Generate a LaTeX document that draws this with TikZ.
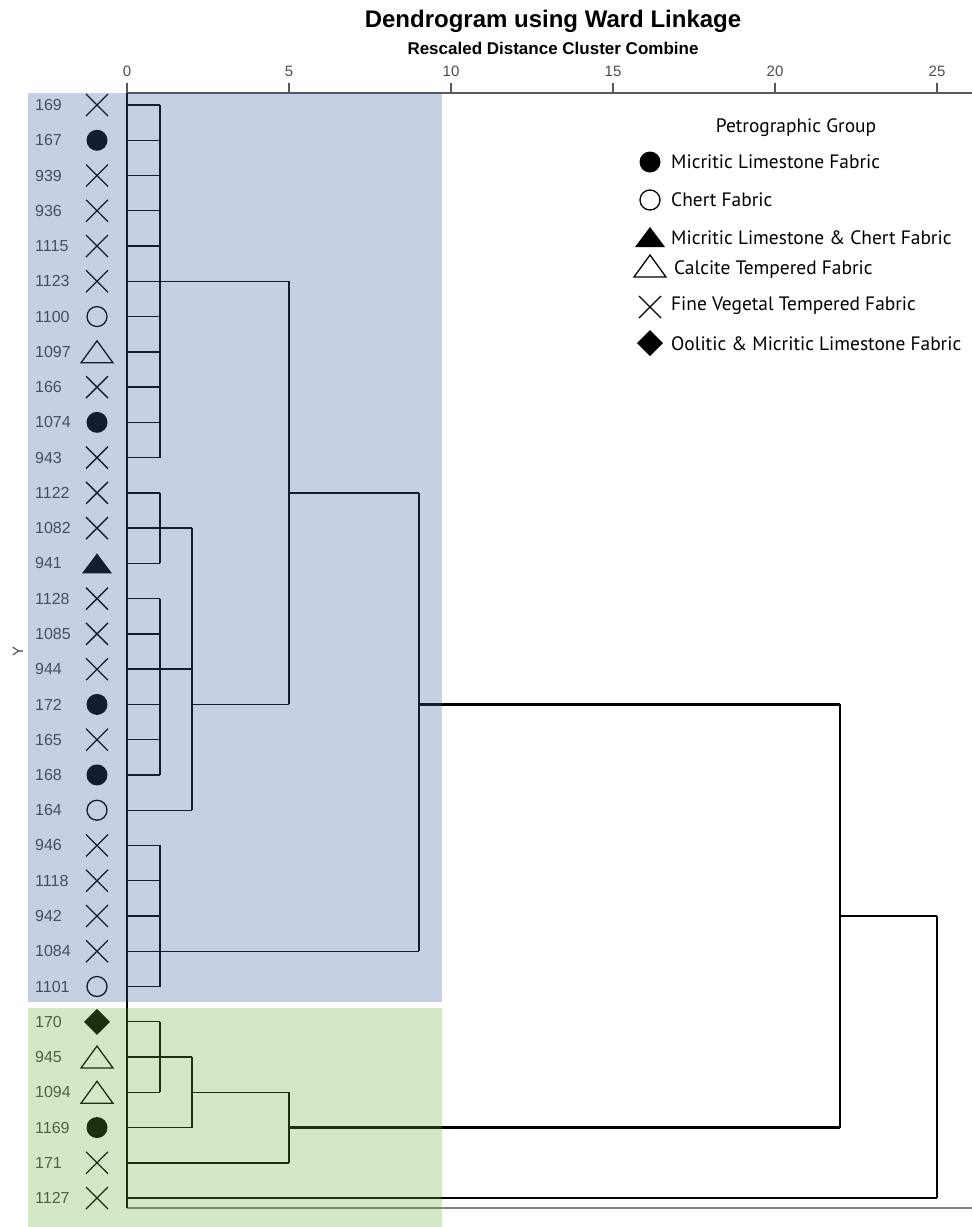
\documentclass[tikz,border=0pt]{standalone}
\usepackage{fontspec}
\setmainfont{Liberation Sans}
\newfontfamily\legendfont{PT Sans}
\usetikzlibrary{calc}

\definecolor{bandblue}{RGB}{62,98,165}
\definecolor{bandgreen}{RGB}{105,173,48}

\tikzset{
    link/.style={line width=1.4pt},
    trunk/.style={line width=2.8pt},
    axisline/.style={line width=1.6pt, black!65},
    leaflabel/.style={anchor=west, inner sep=0pt, text=black!72, font=\fontsize{16}{16}\selectfont},
    ticklabel/.style={inner sep=0pt, text=black!70, font=\fontsize{15}{15}\selectfont},
    legendtext/.style={anchor=west, inner sep=0pt, font=\legendfont\fontsize{19.4}{19.4}\selectfont},
    pics/dotmark/.style={code={\fill (0,0) circle (10.5);}},
    pics/ringmark/.style={code={\draw[line width=1.3pt] (0,0) circle (10);}},
    pics/trimark/.style={code={\fill (-15,10) -- (15,10) -- (0,-10) -- cycle;}},
    pics/otrimark/.style={code={\draw[line width=1.3pt] (-16,11) -- (16,11) -- (0,-11) -- cycle;}},
    pics/crossmark/.style={code={\draw[line width=1.3pt] (-11,-11) -- (11,11) (-11,11) -- (11,-11);}},
    pics/diamark/.style={code={\fill (0,-13) -- (13,0) -- (0,13) -- (-13,0) -- cycle;}}
}

\begin{document}
\begin{tikzpicture}[x=1pt,y=-1pt]
    \useasboundingbox (0,0) rectangle (972,1227);

    % titles
    \node[font=\bfseries\fontsize{24}{24}\selectfont] (title) at (553,21) {Dendrogram using Ward Linkage};
    \node[font=\bfseries\fontsize{17}{17}\selectfont] (subtitle) at (553,48) {Rescaled Distance Cluster Combine};

    % axis and frame
    \draw[axisline] (127,93) -- (972,93);
    \draw[axisline, black!50] (127,1208) -- (972,1208);
    \draw[link] (127,93) -- (127,1208);
    \foreach \d in {0,5,...,25}{
        \draw[axisline] ({127+32.4*\d},83) -- ({127+32.4*\d},93);
        \node[ticklabel] (k\d) at ({127+32.4*\d},71) {\d};
    }
    \node[ticklabel, rotate=90] (ylab) at (18,651) {Y};

    % columns of the joins
    \coordinate (c1) at (160,93);
    \coordinate (c2) at (192,93);
    \coordinate (c5) at (289,93);
    \coordinate (c9) at (419,93);
    \coordinate (c22) at (840,93);
    \coordinate (c25) at (937,93);

    % leaves
    \foreach \lab/\mk [count=\i from 0] in {169/crossmark,167/dotmark,939/crossmark,936/crossmark,
        1115/crossmark,1123/crossmark,1100/ringmark,1097/otrimark,166/crossmark,1074/dotmark,
        943/crossmark,1122/crossmark,1082/crossmark,941/trimark,1128/crossmark,1085/crossmark,
        944/crossmark,172/dotmark,165/crossmark,168/dotmark,164/ringmark,946/crossmark,
        1118/crossmark,942/crossmark,1084/crossmark,1101/ringmark,170/diamark,945/otrimark,
        1094/otrimark,1169/dotmark,171/crossmark,1127/crossmark}{
        \coordinate (l\i) at (127,{105+35.26*\i});
        \node[leaflabel] (t\i) at (35,{105+35.26*\i}) {\lab};
        \pic at (97,{105+35.26*\i}) {\mk};
    }

    % first merges
    \foreach \i in {0,...,19,21,22,23,24,25,26,28}
        \draw[link] (l\i) -- (l\i -| c1);
    \draw[link] (l0 -| c1) -- (l10 -| c1);
    \draw[link] (l11 -| c1) -- (l13 -| c1);
    \draw[link] (l14 -| c1) -- (l19 -| c1);
    \draw[link] (l21 -| c1) -- (l25 -| c1);
    \draw[link] (l26 -| c1) -- (l28 -| c1);

    % upper cluster
    \draw[link] (l12 -| c1) -- (l12 -| c2);
    \draw[link] (l16 -| c1) -- (l16 -| c2);
    \draw[link] (l20) -- (l20 -| c2);
    \draw[link] (l12 -| c2) -- (l20 -| c2);
    \draw[link] (l5 -| c1) -- (l5 -| c5);
    \draw[link] (l17 -| c2) -- (l17 -| c5);
    \draw[link] (l5 -| c5) -- (l17 -| c5);
    \draw[link] (l11 -| c5) -- (l11 -| c9);
    \draw[link] (l24 -| c1) -- (l24 -| c9);
    \draw[link] (l11 -| c9) -- (l24 -| c9);
    \draw[trunk] (l17 -| c9) -- (l17 -| c22);

    % lower cluster
    \draw[link] (l27) -- (l27 -| c2);
    \draw[link] (l29) -- (l29 -| c2);
    \draw[link] (l27 -| c2) -- (l29 -| c2);
    \draw[link] (l28 -| c2) -- (l28 -| c5);
    \draw[link] (l30) -- (l30 -| c5);
    \draw[link] (l28 -| c5) -- (l30 -| c5);
    \draw[trunk] (l29 -| c5) -- (l29 -| c22);

    % last joins
    \draw[link] (l17 -| c22) -- (l29 -| c22);
    \coordinate (j22) at ($(l17 -| c22)!0.5!(l29 -| c22)$);
    \draw[link] (j22) -- (j22 -| c25);
    \draw[link] (l31) -- (l31 -| c25);
    \draw[link] (j22 -| c25) -- (l31 -| c25);

    % legend
    \node[font=\legendfont\fontsize{19.4}{19.4}\selectfont] (legtitle) at (796,128) {Petrographic Group};
    \pic at (650,162) {dotmark};
    \node[legendtext] (g1) at (671,162) {Micritic Limestone Fabric};
    \pic at (650,200) {ringmark};
    \node[legendtext] (g2) at (671,200) {Chert Fabric};
    \pic at (650,237) {trimark};
    \node[legendtext] (g3) at (671,238) {Micritic Limestone \& Chert Fabric};
    \pic at (650,266) {otrimark};
    \node[legendtext] (g4) at (674,270) {Calcite Tempered Fabric};
    \pic at (650,307) {crossmark};
    \node[legendtext] (g5) at (671,306) {Fine Vegetal Tempered Fabric};
    \pic at (650,343) {diamark};
    \node[legendtext] (g6) at (671,344) {Oolitic \& Micritic Limestone Fabric};

    % coloured bands
    \fill[bandblue, fill opacity=0.3] (28,93) rectangle (442,1002);
    \fill[bandgreen, fill opacity=0.28] (28,1008) rectangle (442,1227);
\end{tikzpicture}
\end{document}
